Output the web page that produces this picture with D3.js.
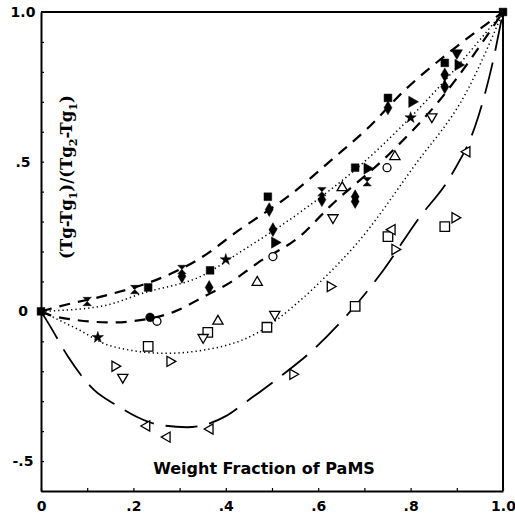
<!DOCTYPE html>
<html>
<meta charset="utf-8">
<style>
  body { margin: 0; background: #fff; }
  .tick text { font-family: "DejaVu Sans", sans-serif; font-weight: bold; font-size: 14px; fill: #000; }
  .domain { stroke: #000; stroke-width: 2; }
  .tick line { stroke: #000; stroke-width: 1.2; }
  .curve { fill: none; stroke: #000; }
</style>
<body>
<script src="https://d3js.org/d3.v7.min.js"></script>
<script>
  const width = 515, height = 514;

  // tick values and labels
  const xTicks = [0, 0.1, 0.2, 0.3, 0.4, 0.5, 0.6, 0.7, 0.8, 0.9, 1.0];
  const xLabelValues = [0, 0.2, 0.4, 0.6, 0.8, 1.0];
  const xLabelText = ["0", ".2", ".4", ".6", ".8", "1.0"];
  const yTicks = [-0.6, -0.5, -0.4, -0.3, -0.2, -0.1, 0, 0.1, 0.2, 0.3, 0.4, 0.5, 0.6, 0.7, 0.8, 0.9, 1.0];
  const yLabelValues = [-0.5, 0, 0.5, 1.0];
  const yLabelText = ["-.5", "0", ".5", "1.0"];

  // fitted curves
  const curveUpperDash = [[0,0],[0.056,0.023],[0.132,0.05],[0.268,0.117],[0.34,0.173],[0.43,0.273],[0.54,0.39],[0.632,0.51],[0.706,0.61],[0.788,0.74],[0.89,0.873],[1,1]];
  const curveUpperDot = [[0,0],[0.13,0.017],[0.225,0.063],[0.35,0.12],[0.43,0.197],[0.56,0.33],[0.7,0.5],[0.85,0.73],[1,1]];
  const curveLowerDash = [[0,0],[0.03,-0.017],[0.155,-0.037],[0.197,-0.033],[0.29,0],[0.35,0.047],[0.41,0.097],[0.47,0.163],[0.56,0.25],[0.625,0.35],[0.75,0.52],[0.86,0.70],[1,1]];
  const curveLowerDot = [[0,0],[0.08,-0.06],[0.15,-0.115],[0.27,-0.14],[0.35,-0.13],[0.47,-0.07],[0.56,0.035],[0.625,0.13],[0.68,0.22],[0.81,0.49],[0.92,0.73],[1,1]];
  const curveLongDash = [[0,0],[0.02,-0.05],[0.058,-0.15],[0.113,-0.26],[0.167,-0.317],[0.208,-0.353],[0.25,-0.377],[0.316,-0.387],[0.40,-0.35],[0.446,-0.30],[0.51,-0.227],[0.59,-0.127],[0.654,-0.027],[0.734,0.123],[0.816,0.307],[0.89,0.46],[0.94,0.62],[0.976,0.82],[1,1]];

  // data points by marker
  const filledSquare = [[0,0],[1,1],[0.232,0.08],[0.366,0.137],[0.491,0.383],[0.68,0.48],[0.751,0.713],[0.874,0.83]];
  const filledDiamond = [[0.305,0.117],[0.364,0.08],[0.494,0.34],[0.502,0.273],[0.608,0.373],[0.68,0.383],[0.68,0.367],[0.751,0.68],[0.874,0.79],[0.874,0.75]];
  const filledTriRight = [[0.506,0.23],[0.706,0.477],[0.803,0.70],[0.903,0.823]];
  const filledTriDown = [[0.90,0.863]];
  const filledStar = [[0.123,-0.087],[0.40,0.173],[0.80,0.647]];
  const hourglass = [[0.10,0.033],[0.203,0.073],[0.305,0.14],[0.608,0.40],[0.706,0.433]];
  const filledCircle = [[0.236,-0.02]];
  const openCircle = [[0.251,-0.033],[0.502,0.183],[0.749,0.48]];
  const openTriUp = [[0.383,-0.033],[0.468,0.097],[0.652,0.413],[0.766,0.517]];
  const openTriDown = [[0.177,-0.22],[0.351,-0.087],[0.506,-0.01],[0.632,0.313],[0.846,0.65]];
  const openTriRight = [[0.16,-0.183],[0.279,-0.167],[0.545,-0.21],[0.626,0.083],[0.766,0.207],[0.896,0.313]];
  const openTriLeft = [[0.229,-0.383],[0.273,-0.42],[0.366,-0.393],[0.76,0.273],[0.922,0.533]];
  const openSquare = [[0.232,-0.117],[0.361,-0.07],[0.489,-0.053],[0.68,0.017],[0.751,0.25],[0.874,0.283]];

  let x = d3.scaleLinear().domain([0, 1]).range([41, 503]);
  let y = d3.scaleLinear().domain([-0.6, 1]).range([491, 12]);

  let svg = d3.select("body").append("svg")
    .attr("width", width)
    .attr("height", height);

  // frame top/right
  svg.append("path")
    .attr("d", `M${x(0)},${y(1)}H${x(1)}V${y(-0.6)}`)
    .attr("fill", "none").attr("stroke", "#000").attr("stroke-width", 2);

  function pick(vals, texts) {
    return d => {
      let i = vals.findIndex(v => Math.abs(v - d) < 1e-6);
      return i < 0 ? "" : texts[i];
    };
  }

  svg.append("g")
    .attr("transform", `translate(0,${y(-0.6)})`)
    .call(d3.axisBottom(x).tickValues(xTicks).tickSizeInner(-3).tickSizeOuter(0)
      .tickPadding(10).tickFormat(pick(xLabelValues, xLabelText)));

  let yAxisG = svg.append("g")
    .attr("transform", `translate(${x(0)},0)`)
    .call(d3.axisLeft(y).tickValues(yTicks).tickSizeInner(-3).tickSizeOuter(0)
      .tickPadding(18).tickFormat(pick(yLabelValues, yLabelText)));
  yAxisG.selectAll(".tick text").attr("text-anchor", "middle");

  // curves
  let line = d3.line().x(d => x(d[0])).y(d => y(d[1])).curve(d3.curveMonotoneX);

  let curves = [
    { data: curveUpperDash, dash: "11,8", w: 2.2 },
    { data: curveUpperDot, dash: "1.3,3", w: 1.5 },
    { data: curveLowerDash, dash: "11,8", w: 2.2 },
    { data: curveLowerDot, dash: "1.3,3", w: 1.5 },
    { data: curveLongDash, dash: "32,12", w: 1.8 }
  ];
  svg.selectAll(".curve")
    .data(curves)
    .enter().append("path")
    .attr("class", "curve")
    .attr("d", d => line(d.data))
    .attr("stroke-dasharray", d => d.dash)
    .attr("stroke-width", d => d.w);

  // hourglass symbol
  const symbolHourglass = {
    draw(ctx, size) {
      let r = Math.sqrt(size) / 2;
      ctx.moveTo(-r, -r); ctx.lineTo(r, -r); ctx.lineTo(0, 0); ctx.closePath();
      ctx.moveTo(-r, r); ctx.lineTo(r, r); ctx.lineTo(0, 0); ctx.closePath();
    }
  };

  let markers = [
    { data: openSquare, type: d3.symbolSquare, size: 90, rot: 0, filled: false },
    { data: openTriLeft, type: d3.symbolTriangle, size: 45, rot: -90, filled: false },
    { data: openTriRight, type: d3.symbolTriangle, size: 45, rot: 90, filled: false },
    { data: openTriDown, type: d3.symbolTriangle, size: 45, rot: 180, filled: false },
    { data: openTriUp, type: d3.symbolTriangle, size: 45, rot: 0, filled: false },
    { data: openCircle, type: d3.symbolCircle, size: 50, rot: 0, filled: false },
    { data: filledCircle, type: d3.symbolCircle, size: 60, rot: 0, filled: true },
    { data: hourglass, type: symbolHourglass, size: 70, rot: 0, filled: true },
    { data: filledStar, type: d3.symbolStar, size: 40, rot: 0, filled: true },
    { data: filledTriDown, type: d3.symbolTriangle, size: 55, rot: 180, filled: true },
    { data: filledTriRight, type: d3.symbolTriangle, size: 55, rot: 90, filled: true },
    { data: filledDiamond, type: d3.symbolDiamond, size: 55, rot: 0, filled: true },
    { data: filledSquare, type: d3.symbolSquare, size: 60, rot: 0, filled: true }
  ];

  markers.forEach(m => {
    svg.append("g").selectAll("path")
      .data(m.data)
      .enter().append("path")
      .attr("transform", d => `translate(${x(d[0])},${y(d[1])}) rotate(${m.rot})`)
      .attr("d", d3.symbol().type(m.type).size(m.size))
      .attr("fill", m.filled ? "#000" : "#fff")
      .attr("stroke", "#000")
      .attr("stroke-width", m.filled ? 0.5 : 1.3);
  });

  // axis titles
  svg.append("text")
    .attr("x", 264).attr("y", 474)
    .attr("text-anchor", "middle")
    .style("font-family", "'DejaVu Sans', sans-serif")
    .style("font-weight", "bold")
    .style("font-size", "16px")
    .text("Weight Fraction of PaMS");

  let ylab = svg.append("text")
    .attr("transform", "translate(72,177) rotate(-90)")
    .attr("text-anchor", "middle")
    .style("font-family", "'DejaVu Serif', serif")
    .style("font-weight", "bold")
    .style("font-size", "16.5px");
  [["(Tg-Tg", false], ["1", true], [")/(Tg", false], ["2", true], ["-Tg", false], ["1", true], [")", false]]
    .forEach(p => {
      ylab.append("tspan")
        .attr("dy", p[1] ? 5 : (p[0] == "(Tg-Tg" ? 0 : -5))
        .style("font-size", p[1] ? "11px" : null)
        .text(p[0]);
    });
</script>
</body>
</html>
